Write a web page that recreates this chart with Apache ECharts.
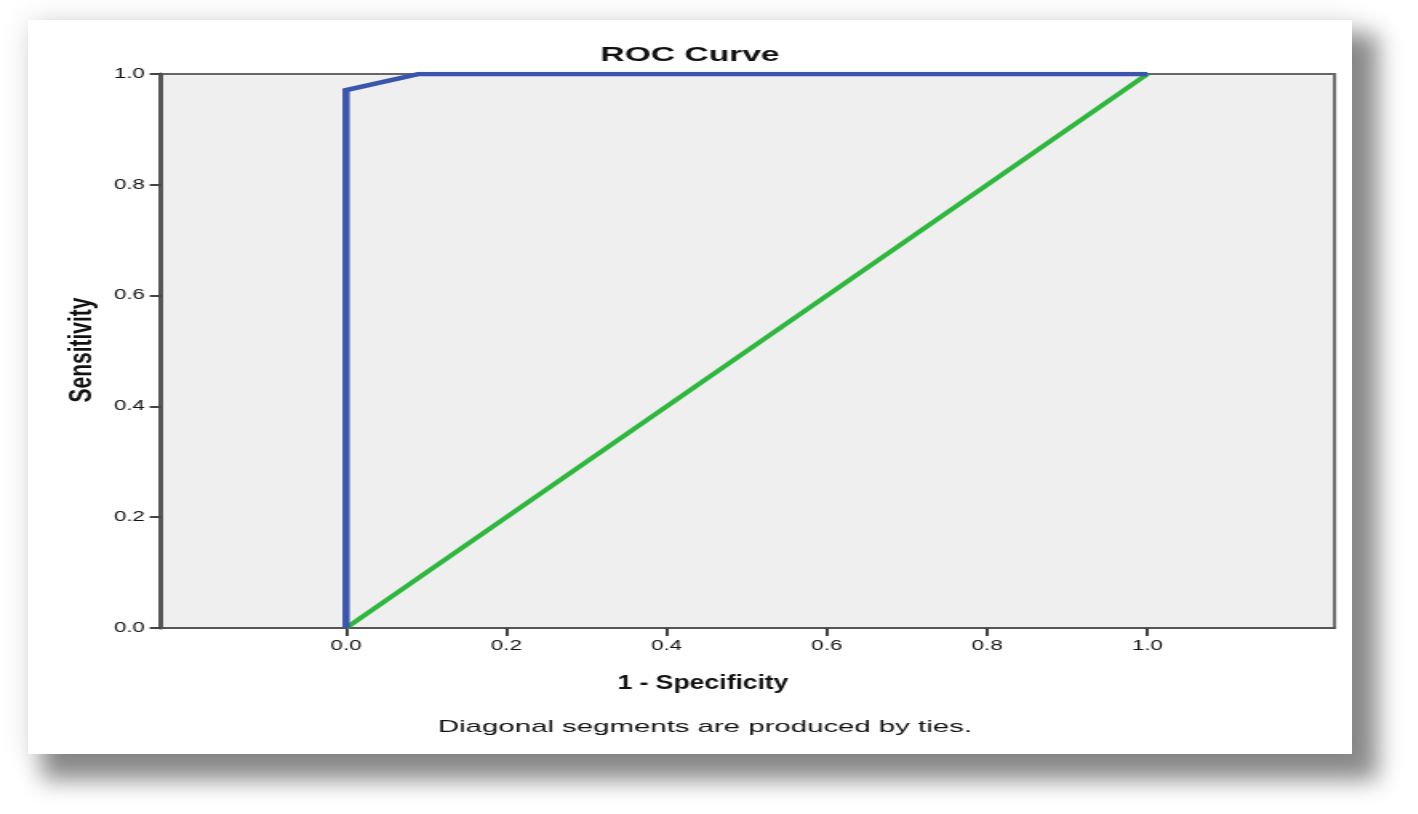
<!DOCTYPE html>
<html>
<head>
<meta charset="utf-8">
<script src="https://cdn.jsdelivr.net/npm/echarts@6/dist/echarts.min.js"></script>
<style>
html,body{margin:0;padding:0;background:#fff;width:1418px;height:814px;overflow:hidden;}
#card{position:absolute;left:28px;top:20px;width:1324px;height:734px;background:#fff;
box-shadow:20px 20px 22px 6px rgba(0,0,0,0.45), 0 0 28px 4px rgba(0,0,0,0.08);}
#chart{position:absolute;left:0;top:0;width:886.25px;height:814px;transform:scaleX(1.6);transform-origin:0 0;}
</style>
</head>
<body>
<div id="card"></div>
<div id="chart"></div>
<script>
const rocX = [0, 0, 0.091, 1];
const rocY = [0, 0.971, 1, 1];
const refX = [0, 1];
const refY = [0, 1];
const xTicks = [0, 0.2, 0.4, 0.6, 0.8, 1.0];
const yTicks = [0, 0.2, 0.4, 0.6, 0.8, 1.0];

const S = 1.6; // horizontal stretch of the picture
const chart = echarts.init(document.getElementById('chart'));
const fontFam = 'Liberation Sans, Arial, sans-serif';
chart.setOption({
  backgroundColor: 'transparent',
  animation: false,
  grid: {left: 161 / S, right: 83 / S, top: 74, bottom: 186, show: true, backgroundColor: '#efefef', borderColor: '#666', borderWidth: 2},
  xAxis: {
    type: 'value', min: -0.231, max: 1.2335,
    axisLine: {show: true, onZero: false, lineStyle: {color: '#555', width: 2}},
    axisTick: {show: true, customValues: xTicks, length: 8, lineStyle: {color: '#444', width: 2}},
    axisLabel: {customValues: xTicks, formatter: v => v.toFixed(1), color: '#111', fontSize: 14, fontFamily: fontFam, margin: 11},
    splitLine: {show: false}
  },
  yAxis: {
    type: 'value', min: 0, max: 1, interval: 0.2,
    axisLine: {show: true, onZero: false, lineStyle: {color: '#555', width: 3}},
    axisTick: {show: true, length: 7, lineStyle: {color: '#444', width: 2}},
    axisLabel: {formatter: v => v.toFixed(1), color: '#111', fontSize: 14, fontFamily: fontFam, margin: 10},
    splitLine: {show: false}
  },
  series: [
    {type: 'line', data: refX.map((x, i) => [x, refY[i]]), showSymbol: false, lineStyle: {color: '#2db83d', width: 4}, z: 2},
    {type: 'line', data: rocX.map((x, i) => [x, rocY[i]]), showSymbol: false, lineStyle: {color: '#3b55ad', width: 4.5, join: 'miter'}, z: 3}
  ],
  graphic: [
    {type: 'text', x: 690 / S, y: 55, scaleX: 1.0, style: {text: 'ROC Curve', x: 0, y: 0, align: 'center', verticalAlign: 'middle', font: 'bold 21px ' + fontFam, fill: '#111'}},
    {type: 'text', x: 703 / S, y: 683, scaleX: 0.79, style: {text: '1 - Specificity', x: 0, y: 0, align: 'center', verticalAlign: 'middle', font: 'bold 21px ' + fontFam, fill: '#111'}},
    {type: 'text', x: 705 / S, y: 727, scaleX: 1.08, style: {text: 'Diagonal segments are produced by ties.', x: 0, y: 0, align: 'center', verticalAlign: 'middle', font: '17px ' + fontFam, fill: '#111'}},
    {type: 'text', x: 82.5 / S, y: 350, rotation: Math.PI / 2, style: {text: 'Sensitivity', x: 0, y: 0, align: 'center', verticalAlign: 'middle', font: 'bold 21px ' + fontFam, fill: '#111'}}
  ]
});
</script>
</body>
</html>
